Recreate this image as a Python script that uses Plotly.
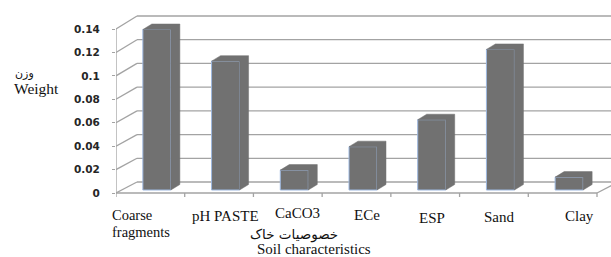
import plotly.graph_objects as go

# ---------------- data ----------------
categories = ["Coarse fragments", "pH PASTE", "CaCO3", "ECe", "ESP", "Sand", "Clay"]
weights = [0.137, 0.110, 0.017, 0.037, 0.060, 0.120, 0.011]
y_tick_vals = [0, 0.02, 0.04, 0.06, 0.08, 0.10, 0.12, 0.14]
y_tick_text = ["0", "0.02", "0.04", "0.06", "0.08", "0.1", "0.12", "0.14"]
y_title_lines = ["وزن", "Weight"]
x_title_lines = ["خصوصیات خاک", "Soil characteristics"]

# ---------------- geometry (pixels) ----------------
W, H = 611, 257
ML, MB = 116, 60            # plot area left / bottom margins
FRONT0_PX = 193             # pixel row of value 0 on the front plane
CW = 481 / 7                # px per category
VS = 164 / 0.14             # px per value unit
n = len(categories)
PW, PH = W - ML, H - MB

x_min = -0.5
x_max = -0.5 + PW / CW
y_min = -(PH - FRONT0_PX) / VS
y_max = FRONT0_PX / VS


def yd(py):
    return (FRONT0_PX - py) / VS


wall_dx = 21 / CW


def wall_dy(v):
    return (11 + 2 * v / max(y_tick_vals)) / VS


GRID = "#a3a3a3"
BAR = "#717171"
EDGE = "#9db8e0"

shapes = []
for v in y_tick_vals:
    yb = v + wall_dy(v)
    shapes.append(dict(type="line", x0=x_min, y0=v, x1=x_min + wall_dx, y1=yb,
                       line=dict(color=GRID, width=1.3), layer="below"))
    shapes.append(dict(type="line", x0=x_min + wall_dx, y0=yb, x1=x_max + 1, y1=yb,
                       line=dict(color=GRID, width=1.3), layer="below"))
# floor front edge and right edge
shapes.append(dict(type="line", x0=-0.5, y0=0, x1=n - 0.5, y1=0,
                   line=dict(color=GRID, width=1.3), layer="below"))
shapes.append(dict(type="line", x0=n - 0.5, y0=0, x1=n - 0.5 + wall_dx, y1=wall_dy(0),
                   line=dict(color=GRID, width=1.3), layer="below"))
# front value axis
shapes.append(dict(type="line", x0=-0.5, y0=0, x1=-0.5, y1=max(y_tick_vals),
                   line=dict(color=GRID, width=1.3), layer="below"))
# category separators (tick marks below the floor)
for k in range(n + 1):
    shapes.append(dict(type="line", x0=-0.5 + k, y0=0, x1=-0.5 + k, y1=yd(197),
                       line=dict(color=GRID, width=1.3), layer="below"))

fig = go.Figure()

bar_shift = 6.5 / CW
bar_w = 28 / CW
bar_base = 3 / VS
ddx = 9 / CW
ddy = 5.5 / VS
xs = [i + bar_shift for i in range(n)]

# top + side faces
for xc, v in zip(xs, weights):
    x0, x1 = xc - bar_w / 2, xc + bar_w / 2
    b, t = bar_base, bar_base + v
    fig.add_trace(go.Scatter(
        x=[x0, x0 + ddx, x1 + ddx, x1 + ddx, x1, x1, x0],
        y=[t, t + ddy, t + ddy, b + ddy, b, t, t],
        mode="lines", fill="toself", fillcolor=BAR,
        line=dict(color=BAR, width=0.5), hoverinfo="skip", showlegend=False))

fig.add_trace(go.Bar(
    x=xs, y=weights, base=bar_base, width=bar_w,
    marker=dict(color=BAR, line=dict(color=EDGE, width=1)),
    showlegend=False, hovertext=categories))

# ---------------- text ----------------
SERIF = "Liberation Serif"
annotations = []


def add_text(text, xpx, ypx, size, family=SERIF, xanchor="center"):
    annotations.append(dict(text=text, x=(xpx - ML) / PW, y=(PH - ypx) / PH,
                            xref="paper", yref="paper",
                            xanchor=xanchor, yanchor="middle", showarrow=False,
                            font=dict(family=family, size=size, color="#111111")))


# category labels (nudged like the original)
label_dx = [None, 6, 10, 10.5, 7, 6, 16.5]
label_y = [None, 216, 213, 215, 218, 217, 216]
centers_px = [ML + CW * (i + 0.5) for i in range(n)]
first = categories[0].split(" ")
add_text(first[0], 110, 215, 14.5, xanchor="left")
add_text(first[1], 110, 232, 14.5, xanchor="left")
for i in range(1, n):
    add_text(categories[i], centers_px[i] + label_dx[i], label_y[i], 15)

add_text(y_title_lines[0], 13, 73, 11, family="DejaVu Sans", xanchor="left")
add_text(y_title_lines[1], 12, 88, 15.5, xanchor="left")
add_text(x_title_lines[0], 294, 235, 13.5, family="DejaVu Sans")
add_text(x_title_lines[1], 314, 248.5, 15)

fig.update_layout(
    width=W, height=H,
    margin=dict(l=ML, r=0, t=0, b=MB, pad=0),
    paper_bgcolor="white", plot_bgcolor="white",
    shapes=shapes, annotations=annotations,
    xaxis=dict(range=[x_min, x_max], showgrid=False, zeroline=False,
               showticklabels=False, ticks="", showline=False, fixedrange=True),
    yaxis=dict(range=[y_min, y_max], tickvals=y_tick_vals, ticktext=y_tick_text,
               showgrid=False, zeroline=False, showline=False,
               ticks="outside", ticklen=3, tickcolor=GRID, tickwidth=1.3,
               ticklabelstandoff=10,
               tickfont=dict(family="DejaVu Sans", size=10.5, color="#262626", weight="bold"),
               fixedrange=True),
)

fig.write_html("out.html", config={"displayModeBar": False},
               post_script="document.body.style.margin='0';document.body.style.overflow='hidden';")
